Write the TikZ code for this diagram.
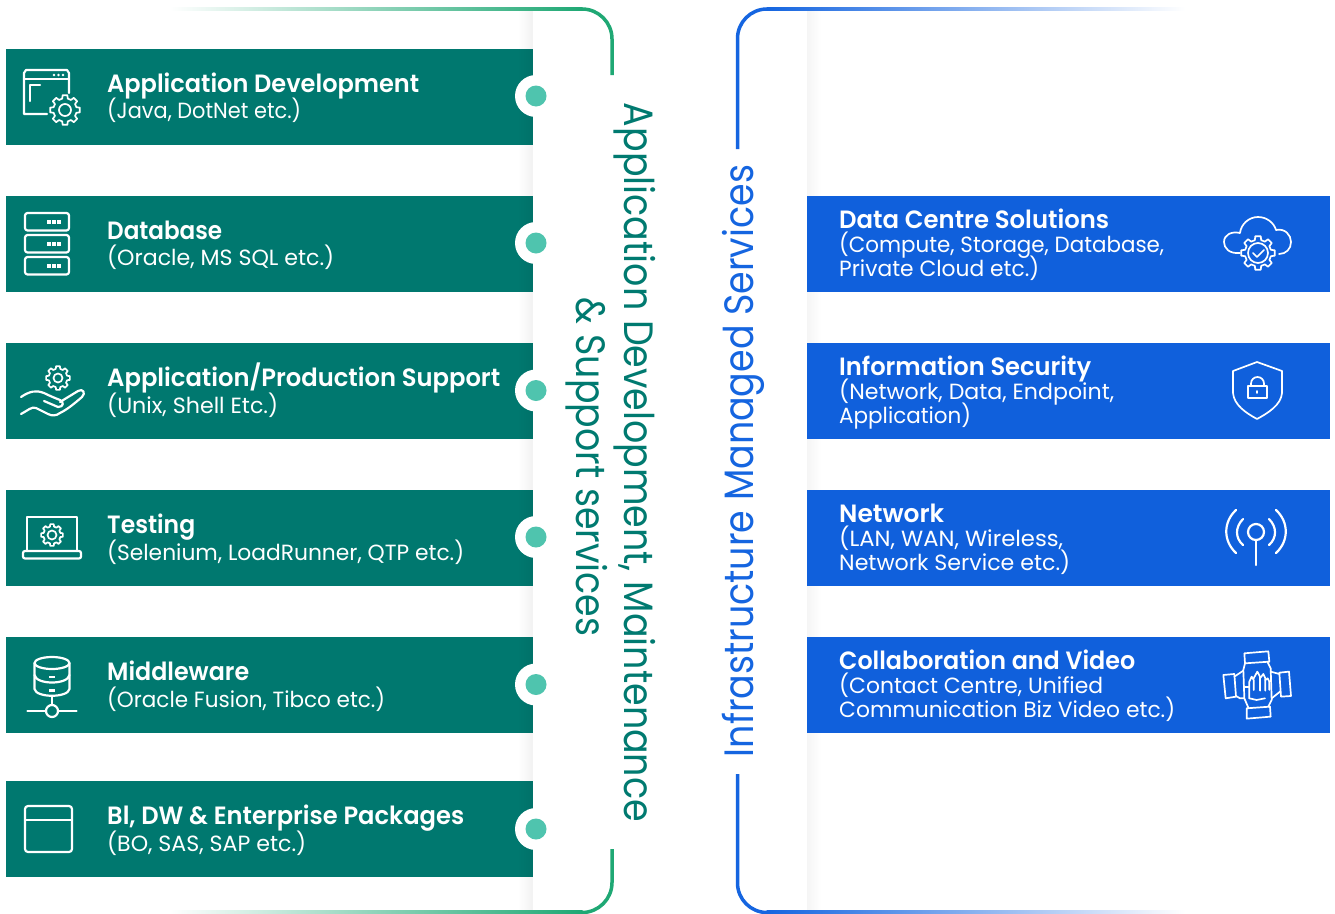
\documentclass[tikz,border=0pt]{standalone}
\usepackage{fontspec}
\usepackage{graphicx}
\setmainfont{Poppins}
\newfontfamily\titlef{Poppins SemiBold}
\newfontfamily\lightf{Poppins}
\definecolor{tealbox}{HTML}{00786F}
\definecolor{bluebox}{HTML}{1060DC}
\definecolor{dotc}{HTML}{4FC4AE}
\definecolor{greenl}{HTML}{1FA874}
\definecolor{bluel}{HTML}{1565E0}
\definecolor{vteal}{HTML}{007A70}
\tikzset{
  tbox/.style={fill=tealbox,draw=none},
  bbox/.style={fill=bluebox,draw=none},
  icon/.style={draw=white,line width=2.2pt,line cap=round,line join=round},
  thinicon/.style={draw=white,line width=1.7pt,line cap=round,line join=round},
  ttl/.style={anchor=base west,inner sep=0pt,text=white,font=\titlef\fontsize{25}{27}\selectfont},
  sub/.style={anchor=base west,inner sep=0pt,text=white,font=\lightf\fontsize{22}{25}\selectfont},
  vtext/.style={anchor=base,inner sep=0pt,font=\lightf\fontsize{41}{44}\selectfont},
  brk/.style={line width=3.5pt},
}
\newcommand{\fitw}[2]{\resizebox{#1pt}{\height}{#2}}
\newcommand{\gearicon}[4]{% cx cy router rinner-circle
  \begin{scope}[shift={(#1,#2)}]
    \pgfmathsetmacro{\ro}{#3}\pgfmathsetmacro{\ri}{#3*0.78}
    \draw[thinicon] (14:\ri) \foreach \a in {45,90,...,360}{ -- (\a-14:\ri) -- (\a-9:\ro) -- (\a+9:\ro) -- (\a+14:\ri) } -- cycle;
    \draw[thinicon] (0,0) circle (#4);
  \end{scope}}
\begin{document}
\begin{tikzpicture}[x=1pt,y=-1pt]
\useasboundingbox (0,0) rectangle (1335,913);
\fill[white] (0,0) rectangle (1335,913);

% boxes
\foreach \n/\t in {l1/49,l2/196,l3/343,l4/490,l5/637,l6/781}{
  \fill[tbox] (6,\t) rectangle (533,\t+96);
  \coordinate (\n) at (6,\t);
}
\foreach \n/\t in {r1/196,r2/343,r3/490,r4/637}{
  \fill[bbox] (807,\t) rectangle (1330,\t+96);
  \coordinate (\n) at (807,\t);
}

% panel shadows
\foreach \i in {0,...,13}{
  \fill[black,opacity={0.0035*(\i+1)}] (519+\i,10) rectangle (520+\i,911);
  \fill[black,opacity={0.0028*(14-\i)}] (807+\i,10) rectangle (808+\i,196);
  \fill[black,opacity={0.0028*(14-\i)}] (807+\i,733) rectangle (808+\i,911);
}
\foreach \t in {292,439,586}{
  \foreach \i in {0,...,13}{
    \fill[black,opacity={0.0028*(14-\i)}] (807+\i,\t) rectangle (808+\i,\t+51);
  }
}

% dots
\foreach \n/\y in {d1/96,d2/243,d3/390.5,d4/537,d5/684.5,d6/829}{
  \fill[white] (536,\y) circle (21);
  \node[circle,fill=dotc,minimum size=21pt,inner sep=0pt] (\n) at (536,\y) {};
}

% brackets
\coordinate (gt) at (582,9);
\coordinate (ge) at (612,75);
\coordinate (gs) at (612,849);
\coordinate (bt) at (767,9);
\coordinate (be) at (737.5,149);
\coordinate (bs) at (737.5,774);
\shade[left color=white,middle color=greenl!32,right color=greenl] (170,7.25) rectangle (582.5,10.75);
\shade[left color=white,middle color=greenl!32,right color=greenl] (170,910.75) rectangle (582.5,913);
\shade[right color=white,middle color=bluel!32,left color=bluel] (766.5,7.25) rectangle (1185,10.75);
\shade[right color=white,middle color=bluel!32,left color=bluel] (766.5,910.75) rectangle (1185,913);
\draw[brk,greenl] (gt) arc[start angle=-90,end angle=0,radius=30] -- (ge);
\draw[brk,greenl] (gs) -- (612,882.5) arc[start angle=0,end angle=90,radius=30];
\draw[brk,bluel] (bt) arc[start angle=-90,end angle=-180,radius=29.5] -- (be);
\draw[brk,bluel] (bs) -- (737.5,883) arc[start angle=180,end angle=90,radius=29.5];

% left text
\node[ttl] (t1) at (107,92) {\fitw{312}{Application Development}};
\node[sub] (s1) at (107,118) {\fitw{194}{(Java, DotNet etc.)}};
\node[ttl] (t2) at (107,239) {\fitw{115}{Database}};
\node[sub] (s2) at (107,265) {\fitw{227}{(Oracle, MS SQL etc.)}};
\node[ttl] (t3) at (107,386) {\fitw{393}{Application/Production Support}};
\node[sub] (s3) at (107,413) {\fitw{171}{(Unix, Shell Etc.)}};
\node[ttl] (t4) at (107,533) {\fitw{88}{Testing}};
\node[sub] (s4) at (107,560) {\fitw{357}{(Selenium, LoadRunner, QTP etc.)}};
\node[ttl] (t5) at (107,680) {\fitw{142}{Middleware}};
\node[sub] (s5) at (107,707) {\fitw{278}{(Oracle Fusion, Tibco etc.)}};
\node[ttl] (t6) at (107,824) {\fitw{357}{Bl, DW \& Enterprise Packages}};
\node[sub] (s6) at (107,851) {\fitw{199}{(BO, SAS, SAP etc.)}};

% right text
\node[ttl] (u1) at (839,228) {\fitw{270}{Data Centre Solutions}};
\node[sub] (v1) at (839,252) {\fitw{325}{(Compute, Storage, Database,}};
\node[sub] (w1) at (839,276) {\fitw{200}{Private Cloud etc.)}};
\node[ttl] (u2) at (839,375) {\fitw{252}{Information Security}};
\node[sub] (v2) at (839,399) {\fitw{275}{(Network, Data, Endpoint,}};
\node[sub] (w2) at (839,423) {\fitw{132}{Application)}};
\node[ttl] (u3) at (839,522) {\fitw{105}{Network}};
\node[sub] (v3) at (839,546) {\fitw{224}{(LAN, WAN, Wireless,}};
\node[sub] (w3) at (839,570) {\fitw{231}{Network Service etc.)}};
\node[ttl] (u4) at (839,669) {\fitw{296}{Collaboration and Video}};
\node[sub] (v4) at (839,693) {\fitw{264}{(Contact Centre, Unified}};
\node[sub] (w4) at (839,717) {\fitw{336}{Communication Biz Video etc.)}};

% vertical text
\node[vtext,text=vteal,rotate=-90] (va) at (624,462.5) {\fitw{719}{Application Development, Maintenance}};
\node[vtext,text=vteal,rotate=-90] (vb) at (576,467) {\fitw{338}{\& Support services}};
\node[vtext,text=bluel,rotate=90] (vc) at (753,461) {\fitw{592}{Infrastructure Managed Services}};

% icon 1: window + gear
\draw[icon] (47,114) -- (24,114) -- (24,73) -- (26,70) -- (67,70) -- (69,73) -- (69,93);
\draw[icon] (24,79) -- (69,79);
\draw[icon] (30,101) -- (30,85) -- (40,85);
\foreach \x in {54,58.5,63}{\fill[white] (\x,75) circle (1.4);}
\gearicon{65}{110}{15}{6}

% icon 2: servers
\foreach \y in {213,235,257}{
  \draw[icon,rounded corners=2.5pt] (25,\y) rectangle (69,\y+17.5);
  \foreach \x in {49,54,59}{\fill[white] (\x-1.6,\y+7) rectangle (\x+1.6,\y+10.5);}
}

% icon 3: hand + gear
\gearicon{58}{378}{12}{4.5}
\draw[icon] (21,397) .. controls (30,391) and (36,390) .. (44,393) .. controls (50,396) and (55,398) .. (60,400) .. controls (64,402) and (64,407) .. (58,407) -- (44,401);
\draw[icon] (60,402) -- (78,391) .. controls (83,388) and (86,393) .. (82,397) .. controls (75,403) and (68,409) .. (60,413) .. controls (56,416) and (52,416) .. (48,414) -- (36,408) .. controls (32,406) and (27,411) .. (21,414);

% icon 4: laptop + gear
\draw[icon] (27,551) -- (27,517) -- (77,517) -- (77,551);
\draw[icon,rounded corners=2pt] (23,551) -- (81,551) -- (81,558.5) -- (23,558.5) -- cycle;
\gearicon{52}{535}{11}{4.5}

% icon 5: database + network
\draw[icon] (52,663) ellipse (17.5 and 6);
\draw[icon] (34.5,663) -- (34.5,689) .. controls (36,698) and (68,698) .. (69.5,689) -- (69.5,663);
\draw[icon] (34.5,675) .. controls (36,685) and (68,685) .. (69.5,675);
\fill[white] (49,675.5) rectangle (55,678);
\fill[white] (49,689) rectangle (55,691.5);
\draw[icon] (52,696) -- (52,705);
\draw[icon] (52,711) circle (6);
\draw[icon] (27.5,711) -- (46,711) (58,711) -- (76.5,711);

% icon 6: window
\draw[icon,rounded corners=3pt] (25,806) rectangle (72,852);
\draw[icon] (25,820) -- (72,820);

% icon r1: cloud + gear
\draw[thinicon] (1240,253) .. controls (1229,254) and (1224,248) .. (1224,242) .. controls (1224,235) and (1231,231) .. (1240,233) .. controls (1241,224) and (1249,217) .. (1258,217) .. controls (1267,217) and (1274,223) .. (1276,230) .. controls (1285,228) and (1291,235) .. (1291,242) .. controls (1291,249) and (1286,254) .. (1279,254);
\gearicon{1258}{253}{17}{10}
\draw[thinicon] (1253,253) -- (1257,257) -- (1264,250);

% icon r2: shield + lock
\draw[thinicon] (1257,362) -- (1233,371) -- (1233,393) .. controls (1234,405) and (1246,413) .. (1257,419) .. controls (1268,413) and (1281,405) .. (1282,393) -- (1282,371) -- cycle;
\draw[thinicon] (1248,386) rectangle (1267,398);
\draw[thinicon] (1251,386) -- (1251,383.5) arc[start angle=180,end angle=360,radius=6.5] -- (1264,386);
\draw[thinicon] (1257,391) -- (1257,393);

% icon r3: antenna
\draw[icon] (1256,532) circle (8);
\draw[icon] (1256,540) -- (1256,565);
\draw[icon] (1243,519) .. controls (1235,527) and (1235,538) .. (1243,545);
\draw[icon] (1269,519) .. controls (1277,527) and (1277,538) .. (1269,545);
\draw[icon] (1236,510) .. controls (1223,522) and (1223,541) .. (1236,553);
\draw[icon] (1276,510) .. controls (1289,522) and (1289,541) .. (1276,553);

% icon r4: hands
\begin{scope}[shift={(1180,480)},x=0.3333pt,y=-0.3333pt]
\draw[thinicon] (193,520) -- (265,514) -- (268,545) -- (195,550) -- cycle;
\draw[thinicon] (200,685) -- (270,680) -- (272,710) -- (200,716) -- cycle;
\draw[thinicon] (130,585) -- (163,582) -- (168,650) -- (137,655) -- cycle;
\draw[thinicon] (298,578) -- (327,575) -- (333,648) -- (303,650) -- cycle;
\draw[thinicon] (195,550) -- (190,570) -- (193,655) -- (205,683);
\draw[thinicon] (262,545) -- (272,565) -- (275,660) -- (265,680);
\draw[thinicon] (163,590) -- (190,572);
\draw[thinicon] (168,648) -- (180,655) -- (193,655);
\draw[thinicon] (272,575) -- (298,582);
\draw[thinicon] (275,655) -- (300,635);
\draw[thinicon] (195,620) -- (207,620);
\draw[thinicon] (208,655) -- (208,605) -- (215,590) -- (221,600) -- (221,630);
\draw[thinicon] (221,595) -- (232,575) -- (240,590) -- (240,632);
\draw[thinicon] (240,595) -- (250,582) -- (256,595) -- (256,632);
\draw[thinicon] (256,600) -- (263,595) -- (268,605) -- (268,630);
\draw[thinicon] (208,655) -- (230,660) -- (255,655);
\end{scope}
\end{tikzpicture}
\end{document}
